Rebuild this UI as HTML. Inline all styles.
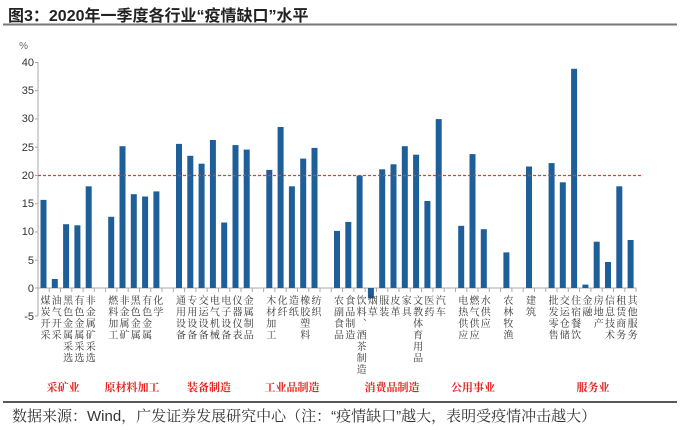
<!DOCTYPE html>
<html><head><meta charset="utf-8"><style>
body{margin:0;width:680px;height:430px;background:#fff;position:relative;overflow:hidden;font-family:"Liberation Sans","Noto Sans CJK SC",sans-serif}
.t{position:absolute;left:8px;top:2px;font-size:16px;font-weight:bold;color:#222;font-family:"Liberation Sans","Noto Sans CJK SC",sans-serif}
.l{position:absolute;top:295px;width:11px;writing-mode:vertical-rl;font-family:"Liberation Serif","Noto Serif CJK SC","WenQuanYi Zen Hei",serif;font-size:10px;line-height:11px;letter-spacing:1.5px;color:#333}
.g{position:absolute;top:379px;font-family:"Liberation Serif","Noto Serif CJK SC",serif;font-size:11px;font-weight:bold;color:#e8231f;transform:translateX(-50%);white-space:nowrap}
.f{position:absolute;left:12px;top:405px;font-size:15px;color:#333;font-family:"Liberation Sans","Noto Serif CJK SC",serif;white-space:nowrap}
</style></head><body>
<div class="t">图3：2020年一季度各行业“疫情缺口”水平</div>
<svg width="680" height="430" style="position:absolute;left:0;top:0">
<line x1="3" y1="24.5" x2="677" y2="24.5" stroke="#777" stroke-width="2"/>
<line x1="3" y1="402" x2="677" y2="402" stroke="#222" stroke-width="1.5"/>
<g font-size="11" fill="#333" text-anchor="end" font-family="Liberation Sans">
<text x="34" y="66">40</text><text x="34" y="94">35</text><text x="34" y="122">30</text><text x="34" y="151">25</text><text x="34" y="179">20</text><text x="34" y="207">15</text><text x="34" y="235">10</text><text x="34" y="264">5</text><text x="34" y="292">0</text><text x="34" y="320">-5</text>
<text x="28" y="49" font-size="10" fill="#666">%</text></g>
<g stroke="#aaa" stroke-width="1">
<line x1="38" y1="62" x2="38" y2="316"/>
<line x1="35" y1="62.5" x2="38" y2="62.5"/><line x1="35" y1="90.6" x2="38" y2="90.6"/><line x1="35" y1="118.9" x2="38" y2="118.9"/><line x1="35" y1="147.2" x2="38" y2="147.2"/><line x1="35" y1="175.5" x2="38" y2="175.5"/><line x1="35" y1="203.7" x2="38" y2="203.7"/><line x1="35" y1="232" x2="38" y2="232"/><line x1="35" y1="260.2" x2="38" y2="260.2"/><line x1="35" y1="288" x2="38" y2="288"/><line x1="35" y1="316" x2="38" y2="316"/>
<line x1="38" y1="288" x2="636" y2="288"/>
<path d="M49.2 288v4M60.5 288v4M71.8 288v4M83.1 288v4M94.3 288v4M105.6 288v4M116.9 288v4M128.2 288v4M139.5 288v4M150.8 288v4M162 288v4M173.3 288v4M184.6 288v4M195.9 288v4M207.2 288v4M218.5 288v4M229.8 288v4M241 288v4M252.3 288v4M263.6 288v4M274.9 288v4M286.2 288v4M297.5 288v4M308.8 288v4M320 288v4M331.3 288v4M342.6 288v4M353.9 288v4M365.2 288v4M376.5 288v4M387.8 288v4M399 288v4M410.3 288v4M421.6 288v4M432.9 288v4M444.2 288v4M455.5 288v4M466.8 288v4M478 288v4M489.3 288v4M500.6 288v4M511.9 288v4M523.2 288v4M534.5 288v4M545.8 288v4M557 288v4M568.3 288v4M579.6 288v4M590.9 288v4M602.2 288v4M613.5 288v4M624.8 288v4M636 288v4"/>
</g>
<g fill="#1f5f99">
<rect x="40.5" y="199.9" width="6" height="88.1"/><rect x="51.8" y="279" width="6" height="9"/><rect x="63.1" y="224.2" width="6" height="63.8"/><rect x="74.4" y="225.3" width="6" height="62.7"/><rect x="85.7" y="186.3" width="6" height="101.7"/>
<rect x="108.2" y="216.8" width="6" height="71.2"/><rect x="119.5" y="146.2" width="6" height="141.8"/><rect x="130.8" y="194.2" width="6" height="93.8"/><rect x="142.1" y="196.5" width="6" height="91.5"/><rect x="153.4" y="191.4" width="6" height="96.6"/>
<rect x="176" y="143.9" width="6" height="144.1"/><rect x="187.3" y="155.8" width="6" height="132.2"/><rect x="198.6" y="163.7" width="6" height="124.3"/><rect x="209.9" y="140" width="6" height="148"/><rect x="221.2" y="222.5" width="6" height="65.5"/><rect x="232.5" y="145.1" width="6" height="142.9"/><rect x="243.7" y="149.6" width="6" height="138.4"/>
<rect x="266.3" y="169.9" width="6" height="118.1"/><rect x="277.6" y="127" width="6" height="161"/><rect x="288.9" y="186.3" width="6" height="101.7"/><rect x="300.2" y="158.6" width="6" height="129.4"/><rect x="311.5" y="147.9" width="6" height="140.1"/>
<rect x="334" y="230.9" width="6" height="57.1"/><rect x="345.3" y="221.9" width="6" height="66.1"/><rect x="356.6" y="175.6" width="6" height="112.4"/><rect x="367.9" y="288" width="6" height="10.2"/><rect x="379.2" y="169.3" width="6" height="118.7"/><rect x="390.5" y="164.3" width="6" height="123.7"/><rect x="401.8" y="146.2" width="6" height="141.8"/><rect x="413.1" y="154.7" width="6" height="133.3"/><rect x="424.4" y="201" width="6" height="87"/><rect x="435.7" y="119.1" width="6" height="168.9"/>
<rect x="458.2" y="225.8" width="6" height="62.2"/><rect x="469.5" y="154.1" width="6" height="133.9"/><rect x="480.8" y="229.2" width="6" height="58.8"/>
<rect x="503.4" y="252.4" width="6" height="35.6"/><rect x="526" y="166.5" width="6" height="121.5"/>
<rect x="548.6" y="163.1" width="6" height="124.9"/><rect x="559.8" y="182.3" width="6" height="105.7"/><rect x="571.1" y="68.8" width="6" height="219.2"/><rect x="582.4" y="284.6" width="6" height="3.4"/><rect x="593.7" y="241.7" width="6" height="46.3"/><rect x="605" y="262" width="6" height="26"/><rect x="616.3" y="186.3" width="6" height="101.7"/><rect x="627.6" y="240" width="6" height="48"/>
</g>
<line x1="38" y1="175.5" x2="642" y2="175.5" stroke="#e23a3a" stroke-width="1.2" stroke-dasharray="3,2"/>
</svg>
<div class="l" style="left:38px">煤炭开采</div><div class="l" style="left:49.3px">油气开采</div><div class="l" style="left:60.6px">黑色金属采选</div><div class="l" style="left:71.9px">有色金属采选</div><div class="l" style="left:83.2px">非金属矿采选</div>
<div class="l" style="left:105.7px">燃料加工</div><div class="l" style="left:117px">非金属矿</div><div class="l" style="left:128.3px">黑色金属</div><div class="l" style="left:139.6px">有色金属</div><div class="l" style="left:150.9px">化学</div>
<div class="l" style="left:173.5px">通用设备</div><div class="l" style="left:184.8px">专用设备</div><div class="l" style="left:196.1px">交运设备</div><div class="l" style="left:207.4px">电气机械</div><div class="l" style="left:218.7px">电子设备</div><div class="l" style="left:230px">仪器仪表</div><div class="l" style="left:241.2px">金属制品</div>
<div class="l" style="left:263.8px">木材加工</div><div class="l" style="left:275.1px">化纤</div><div class="l" style="left:286.4px">造纸</div><div class="l" style="left:297.7px">橡胶塑料</div><div class="l" style="left:309px">纺织</div>
<div class="l" style="left:331.5px">农副食品</div><div class="l" style="left:342.8px">食品制造</div><div class="l" style="left:354.1px">饮料、酒茶制造</div><div class="l" style="left:365.4px">烟草</div><div class="l" style="left:376.7px">服装</div><div class="l" style="left:388px">皮革</div><div class="l" style="left:399.3px">家具</div><div class="l" style="left:410.6px">文教体育用品</div><div class="l" style="left:421.9px">医药</div><div class="l" style="left:433.2px">汽车</div>
<div class="l" style="left:455.7px">电热供应</div><div class="l" style="left:467px">燃气供应</div><div class="l" style="left:478.3px">水供应</div>
<div class="l" style="left:500.9px">农林牧渔</div><div class="l" style="left:523.5px">建筑</div>
<div class="l" style="left:546.1px">批发零售</div><div class="l" style="left:557.3px">交运仓储</div><div class="l" style="left:568.6px">住宿餐饮</div><div class="l" style="left:579.9px">金融</div><div class="l" style="left:591.2px">房地产</div><div class="l" style="left:602.5px">信息技术</div><div class="l" style="left:613.8px">租赁商务</div><div class="l" style="left:625.1px">其他服务</div>
<div class="g" style="left:63px">采矿业</div><div class="g" style="left:132px">原材料加工</div><div class="g" style="left:209px">装备制造</div><div class="g" style="left:292px">工业品制造</div><div class="g" style="left:392px">消费品制造</div><div class="g" style="left:473px">公用事业</div><div class="g" style="left:593px">服务业</div>
<div class="f">数据来源：Wind，广发证券发展研究中心（注：“疫情缺口”越大，表明受疫情冲击越大）</div>
</body></html>
